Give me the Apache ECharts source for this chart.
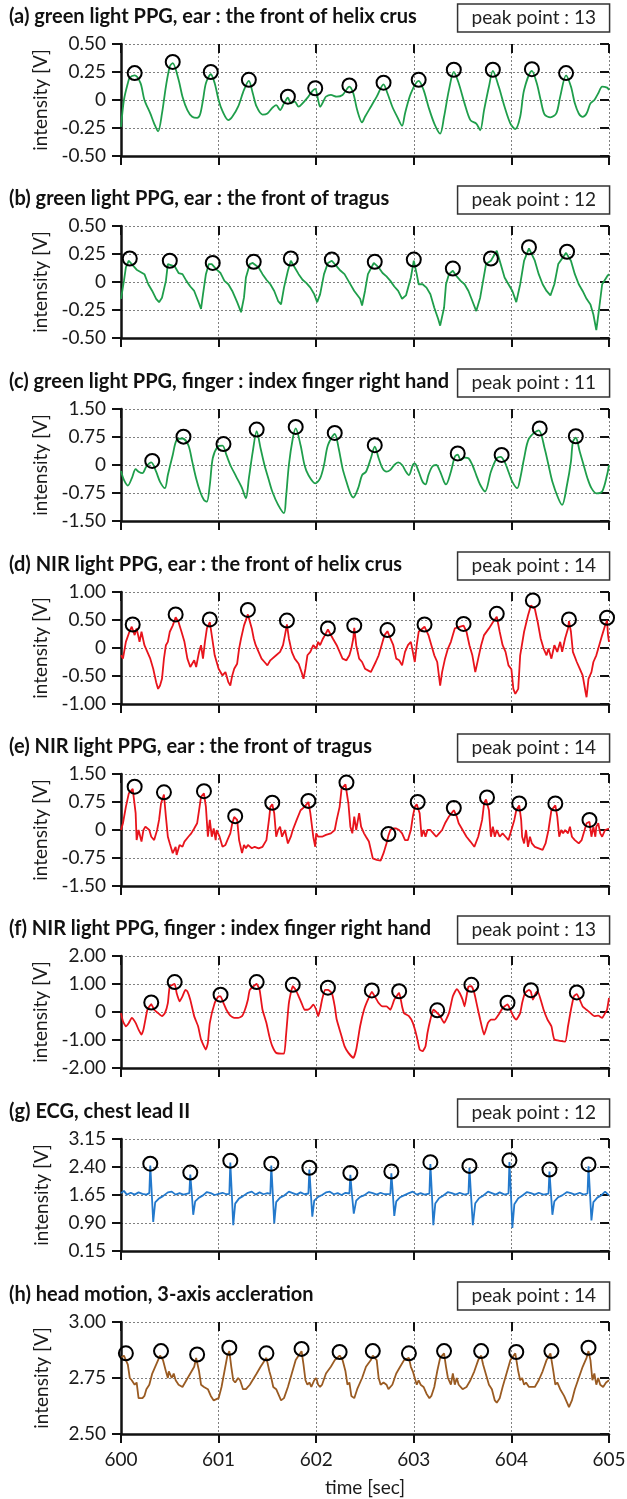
<!DOCTYPE html>
<html>
<head>
<meta charset="utf-8">
<script src="https://cdn.jsdelivr.net/npm/echarts@6/dist/echarts.min.js"></script>
<style>
  html, body { margin: 0; padding: 0; background: #fff; }
  #chart { width: 627px; height: 1499px; }
</style>
</head>
<body>
<div id="chart"></div>
<script>
// panel titles and peak counts
var titles = [
  "(a) green light PPG, ear : the front of helix crus",
  "(b) green light PPG, ear : the front of tragus",
  "(c) green light PPG, finger : index finger right hand",
  "(d) NIR light PPG, ear : the front of helix crus",
  "(e) NIR light PPG, ear : the front of tragus",
  "(f) NIR light PPG, finger : index finger right hand",
  "(g) ECG, chest lead II",
  "(h) head motion, 3-axis accleration"
];
var peakCounts = [13, 12, 11, 14, 14, 13, 12, 14];
var lineColors = ["#1f9e4b", "#1f9e4b", "#1f9e4b", "#e8141c", "#e8141c", "#e8141c", "#2379cc", "#9a5b22"];

// y axis ranges
var yMins = [-0.5, -0.5, -1.5, -1.0, -1.5, -2.0, 0.15, 2.5];
var yMaxs = [0.5, 0.5, 1.5, 1.0, 1.5, 2.0, 3.15, 3.0];
var ySteps = [0.25, 0.25, 0.75, 0.5, 0.75, 1.0, 0.75, 0.25];

// time axis
var timeMin = 600, timeMax = 605, timeStep = 1;

// traces: [time sec, intensity V]
var traceA = [[600.00,-0.24],[600.03,0.00],[600.07,0.15],[600.09,0.20],[600.14,0.22],[600.20,0.15],[600.24,0.00],[600.30,-0.12],[600.34,-0.21],[600.38,-0.28],[600.42,-0.12],[600.46,0.12],[600.50,0.30],[600.53,0.33],[600.59,0.18],[600.63,0.03],[600.68,-0.09],[600.73,-0.15],[600.78,-0.16],[600.81,-0.13],[600.84,0.00],[600.87,0.15],[600.92,0.23],[600.96,0.15],[601.00,0.00],[601.04,-0.10],[601.10,-0.18],[601.14,-0.15],[601.20,-0.06],[601.26,0.09],[601.31,0.17],[601.35,0.06],[601.39,-0.06],[601.45,-0.13],[601.50,-0.12],[601.55,-0.07],[601.59,-0.045],[601.63,-0.09],[601.67,-0.03],[601.71,0.02],[601.74,-0.03],[601.78,-0.015],[601.82,-0.06],[601.86,-0.03],[601.92,0.03],[601.96,0.08],[601.99,0.10],[602.02,0.00],[602.04,-0.06],[602.08,0.00],[602.10,0.03],[602.15,0.045],[602.21,0.03],[602.27,0.045],[602.34,0.12],[602.38,0.06],[602.42,-0.09],[602.47,-0.20],[602.50,-0.15],[602.56,-0.06],[602.62,0.03],[602.69,0.14],[602.73,0.06],[602.78,-0.06],[602.83,-0.15],[602.88,-0.23],[602.91,-0.12],[602.97,0.06],[603.05,0.17],[603.10,0.09],[603.15,-0.06],[603.21,-0.21],[603.27,-0.30],[603.31,-0.15],[603.36,0.09],[603.41,0.25],[603.46,0.15],[603.52,-0.03],[603.58,-0.18],[603.64,-0.21],[603.68,-0.27],[603.72,-0.09],[603.77,0.12],[603.81,0.26],[603.87,0.12],[603.93,-0.06],[603.99,-0.21],[604.04,-0.26],[604.09,-0.15],[604.13,0.09],[604.21,0.26],[604.26,0.15],[604.30,0.00],[604.34,-0.13],[604.40,-0.155],[604.46,-0.12],[604.50,0.03],[604.56,0.22],[604.61,0.12],[604.65,-0.03],[604.69,-0.12],[604.73,-0.15],[604.77,-0.12],[604.81,-0.03],[604.85,0.00],[604.89,0.06],[604.93,0.12],[604.98,0.11],[605.00,0.09]];
var peaksA = [[600.14,0.24],[600.53,0.34],[600.92,0.25],[601.31,0.18],[601.71,0.03],[601.99,0.105],[602.34,0.13],[602.69,0.155],[603.05,0.18],[603.41,0.27],[603.81,0.27],[604.21,0.275],[604.56,0.24]];

var traceB = [[600.00,-0.15],[600.03,0.01],[600.05,0.13],[600.08,0.19],[600.11,0.16],[600.16,0.11],[600.20,0.09],[600.24,0.07],[600.28,-0.02],[600.32,-0.08],[600.36,-0.15],[600.39,-0.18],[600.42,-0.14],[600.46,0.01],[600.48,0.16],[600.50,0.17],[600.55,0.14],[600.59,0.08],[600.63,0.07],[600.67,0.01],[600.71,-0.04],[600.75,-0.08],[600.79,-0.17],[600.82,-0.24],[600.84,-0.11],[600.87,0.07],[600.90,0.16],[600.93,0.16],[600.98,0.11],[601.02,0.08],[601.06,0.01],[601.10,-0.02],[601.14,-0.08],[601.19,-0.18],[601.23,-0.27],[601.26,-0.14],[601.28,0.04],[601.32,0.16],[601.35,0.17],[601.41,0.13],[601.45,0.07],[601.49,0.02],[601.53,-0.02],[601.57,-0.08],[601.61,-0.17],[601.64,-0.20],[601.67,-0.05],[601.71,0.10],[601.74,0.19],[601.78,0.13],[601.82,0.07],[601.86,0.02],[601.90,-0.01],[601.94,-0.05],[601.98,-0.11],[602.01,-0.18],[602.04,-0.11],[602.08,0.07],[602.12,0.17],[602.16,0.19],[602.21,0.14],[602.25,0.10],[602.29,0.07],[602.33,0.01],[602.39,-0.08],[602.45,-0.15],[602.47,-0.21],[602.50,-0.08],[602.53,0.07],[602.59,0.17],[602.64,0.13],[602.68,0.08],[602.72,0.05],[602.76,0.01],[602.80,-0.04],[602.84,-0.08],[602.88,-0.15],[602.92,-0.12],[602.97,0.04],[603.00,0.19],[603.03,0.07],[603.05,-0.02],[603.09,-0.02],[603.13,-0.05],[603.17,-0.11],[603.21,-0.23],[603.25,-0.33],[603.27,-0.39],[603.31,-0.23],[603.33,-0.02],[603.36,0.07],[603.40,0.10],[603.44,0.05],[603.48,0.01],[603.52,-0.02],[603.56,-0.08],[603.60,-0.17],[603.64,-0.26],[603.68,-0.14],[603.71,0.01],[603.74,0.16],[603.79,0.19],[603.85,0.28],[603.89,0.16],[603.93,0.04],[603.97,-0.02],[604.01,-0.08],[604.05,-0.18],[604.09,-0.02],[604.13,0.19],[604.18,0.30],[604.24,0.19],[604.28,0.07],[604.32,-0.02],[604.36,-0.08],[604.40,-0.12],[604.44,-0.02],[604.48,0.16],[604.56,0.26],[604.61,0.19],[604.65,0.07],[604.69,-0.02],[604.73,-0.08],[604.77,-0.15],[604.81,-0.20],[604.84,-0.29],[604.87,-0.43],[604.90,-0.23],[604.93,-0.02],[604.98,0.05],[605.00,0.07]];
var peaksB = [[600.09,0.21],[600.50,0.19],[600.94,0.17],[601.36,0.18],[601.74,0.21],[602.16,0.20],[602.60,0.18],[603.00,0.20],[603.40,0.12],[603.79,0.21],[604.18,0.31],[604.57,0.27]];

var traceC = [[600.00,-0.16],[600.03,-0.40],[600.07,-0.55],[600.11,-0.36],[600.15,-0.11],[600.18,-0.18],[600.22,-0.22],[600.26,-0.04],[600.31,0.07],[600.36,-0.18],[600.40,-0.45],[600.45,-0.62],[600.48,-0.27],[600.53,0.27],[600.57,0.67],[600.63,0.71],[600.69,0.53],[600.73,0.09],[600.77,-0.36],[600.81,-0.71],[600.85,-0.94],[600.88,-0.98],[600.91,-0.53],[600.94,0.18],[600.99,0.49],[601.04,0.52],[601.08,0.27],[601.12,0.00],[601.18,-0.31],[601.24,-0.62],[601.28,-0.89],[601.31,-0.36],[601.35,0.36],[601.39,0.91],[601.43,0.45],[601.47,0.00],[601.51,-0.36],[601.55,-0.71],[601.61,-1.07],[601.67,-1.29],[601.69,-0.89],[601.72,0.00],[601.76,0.71],[601.79,0.98],[601.84,0.53],[601.88,0.00],[601.92,-0.27],[601.99,-0.49],[602.04,-0.36],[602.08,0.00],[602.12,0.53],[602.19,0.83],[602.23,0.45],[602.27,-0.09],[602.31,-0.45],[602.35,-0.76],[602.38,-0.87],[602.43,-0.62],[602.47,-0.27],[602.51,-0.18],[602.56,0.18],[602.60,0.49],[602.64,0.18],[602.68,-0.09],[602.72,-0.18],[602.76,-0.13],[602.80,0.00],[602.84,0.07],[602.88,0.00],[602.92,-0.18],[602.95,-0.27],[602.99,0.00],[603.01,0.04],[603.05,-0.18],[603.09,-0.45],[603.12,-0.52],[603.15,-0.27],[603.19,-0.04],[603.23,0.00],[603.27,-0.18],[603.31,-0.45],[603.33,-0.52],[603.38,-0.18],[603.42,0.22],[603.45,0.28],[603.48,0.13],[603.52,0.20],[603.56,0.18],[603.60,0.00],[603.64,-0.27],[603.68,-0.53],[603.73,-0.71],[603.79,-0.18],[603.85,0.18],[603.89,0.22],[603.93,0.09],[603.97,-0.18],[604.01,-0.45],[604.06,-0.62],[604.09,-0.36],[604.13,0.18],[604.18,0.71],[604.28,0.93],[604.34,0.45],[604.38,0.00],[604.42,-0.45],[604.48,-0.89],[604.52,-1.07],[604.57,-0.53],[604.61,0.09],[604.63,0.62],[604.66,0.73],[604.70,0.36],[604.74,0.00],[604.78,-0.36],[604.82,-0.62],[604.87,-0.76],[604.93,-0.71],[604.98,-0.27],[605.00,0.00]];
var peaksC = [[600.32,0.11],[600.64,0.76],[601.05,0.56],[601.39,0.95],[601.79,1.02],[602.19,0.86],[602.60,0.53],[603.45,0.31],[603.90,0.27],[604.29,0.98],[604.66,0.77]];

var traceD = [[600.00,-0.13],[600.02,-0.19],[600.05,0.11],[600.08,0.26],[600.11,0.38],[600.14,0.23],[600.16,0.35],[600.19,0.11],[600.21,0.29],[600.24,0.05],[600.27,-0.07],[600.30,-0.19],[600.33,-0.37],[600.36,-0.61],[600.38,-0.73],[600.40,-0.67],[600.42,-0.55],[600.44,-0.19],[600.46,0.05],[600.48,0.11],[600.50,0.29],[600.53,0.40],[600.56,0.55],[600.59,0.46],[600.62,0.29],[600.65,0.11],[600.68,-0.19],[600.71,-0.34],[600.75,-0.22],[600.77,-0.34],[600.80,-0.07],[600.82,0.05],[600.84,-0.19],[600.86,0.11],[600.88,0.35],[600.91,0.46],[600.94,0.11],[600.96,-0.13],[600.98,-0.25],[601.00,-0.37],[601.04,-0.49],[601.07,-0.43],[601.10,-0.61],[601.12,-0.67],[601.14,-0.49],[601.16,-0.37],[601.19,-0.28],[601.21,-0.01],[601.23,0.17],[601.26,0.40],[601.30,0.60],[601.34,0.35],[601.36,0.17],[601.38,0.05],[601.41,-0.07],[601.44,-0.19],[601.47,-0.25],[601.50,-0.31],[601.53,-0.22],[601.55,-0.19],[601.59,-0.13],[601.63,-0.07],[601.66,0.05],[601.68,0.23],[601.70,0.42],[601.72,0.17],[601.75,-0.07],[601.78,-0.19],[601.82,-0.28],[601.85,-0.43],[601.87,-0.55],[601.89,-0.37],[601.91,-0.13],[601.94,-0.07],[601.97,0.05],[602.00,-0.01],[602.02,0.11],[602.04,0.05],[602.07,0.17],[602.09,0.23],[602.12,0.33],[602.17,0.17],[602.21,0.05],[602.24,-0.07],[602.27,-0.19],[602.31,-0.22],[602.34,-0.13],[602.36,-0.01],[602.38,0.17],[602.39,0.36],[602.41,0.05],[602.44,-0.19],[602.47,-0.25],[602.50,-0.37],[602.53,-0.40],[602.56,-0.43],[602.58,-0.46],[602.61,-0.25],[602.64,-0.13],[602.67,0.05],[602.70,0.23],[602.73,0.30],[602.76,0.17],[602.79,0.05],[602.82,-0.19],[602.85,-0.22],[602.88,-0.31],[602.91,-0.07],[602.94,0.05],[602.97,0.11],[602.99,-0.07],[603.01,-0.25],[603.03,0.05],[603.05,0.29],[603.11,0.38],[603.15,0.23],[603.18,0.05],[603.21,-0.13],[603.24,-0.25],[603.27,-0.67],[603.29,-0.43],[603.32,-0.19],[603.35,-0.01],[603.38,0.11],[603.40,0.23],[603.42,0.35],[603.51,0.40],[603.54,0.29],[603.57,0.05],[603.60,-0.13],[603.63,-0.43],[603.66,-0.19],[603.69,0.05],[603.72,0.23],[603.77,0.35],[603.81,0.46],[603.85,0.56],[603.88,0.29],[603.91,0.05],[603.94,-0.07],[603.97,-0.31],[604.00,-0.38],[604.02,-0.73],[604.04,-0.82],[604.07,-0.73],[604.09,-0.13],[604.13,0.29],[604.17,0.58],[604.20,0.76],[604.22,0.79],[604.24,0.70],[604.27,0.46],[604.30,0.17],[604.33,-0.01],[604.36,-0.13],[604.38,-0.01],[604.41,-0.19],[604.44,0.05],[604.47,-0.07],[604.50,0.11],[604.52,-0.07],[604.55,0.17],[604.58,0.35],[604.59,0.48],[604.61,0.29],[604.63,-0.07],[604.67,-0.25],[604.70,-0.37],[604.73,-0.49],[604.76,-0.79],[604.77,-0.88],[604.79,-0.55],[604.82,-0.43],[604.84,-0.25],[604.87,-0.13],[604.90,0.05],[604.93,0.23],[604.96,0.40],[604.98,0.49],[604.99,0.23],[605.00,0.11]];
var peaksD = [[600.12,0.42],[600.56,0.60],[600.91,0.51],[601.30,0.68],[601.70,0.49],[602.12,0.35],[602.39,0.40],[602.73,0.32],[603.11,0.42],[603.51,0.43],[603.85,0.61],[604.22,0.85],[604.59,0.51],[604.98,0.54]];

var traceE = [[600.00,0.00],[600.02,0.18],[600.05,0.62],[600.08,0.98],[600.12,1.10],[600.15,0.45],[600.16,-0.27],[600.18,0.00],[600.21,-0.31],[600.23,0.00],[600.25,0.09],[600.27,0.13],[600.29,0.00],[600.31,-0.18],[600.34,-0.27],[600.37,0.00],[600.39,0.27],[600.41,0.71],[600.44,0.95],[600.46,0.36],[600.48,-0.18],[600.50,-0.36],[600.53,-0.62],[600.56,-0.45],[600.57,-0.67],[600.60,-0.40],[600.63,-0.45],[600.65,-0.31],[600.67,-0.27],[600.69,-0.18],[600.72,-0.09],[600.75,0.04],[600.78,0.18],[600.80,0.53],[600.82,0.89],[600.85,0.98],[600.87,0.62],[600.89,-0.18],[600.91,0.27],[600.93,-0.18],[600.95,0.04],[600.97,-0.27],[600.98,0.00],[601.01,-0.18],[601.04,-0.45],[601.07,-0.40],[601.09,-0.27],[601.12,-0.09],[601.14,0.18],[601.16,0.35],[601.19,0.27],[601.21,-0.27],[601.24,-0.62],[601.26,-0.40],[601.28,-0.49],[601.30,-0.40],[601.34,-0.49],[601.37,-0.45],[601.41,-0.49],[601.45,-0.45],[601.49,-0.27],[601.52,0.36],[601.53,0.62],[601.55,0.69],[601.57,0.45],[601.59,-0.18],[601.61,0.00],[601.63,0.09],[601.65,-0.18],[601.68,0.00],[601.71,-0.36],[601.74,-0.18],[601.76,0.00],[601.80,0.27],[601.84,0.53],[601.88,0.62],[601.92,0.75],[601.94,0.45],[601.97,-0.18],[601.99,-0.45],[602.00,-0.09],[602.02,-0.18],[602.06,-0.18],[602.10,-0.13],[602.15,-0.09],[602.19,0.00],[602.21,0.27],[602.24,0.62],[602.26,1.11],[602.30,1.22],[602.33,0.71],[602.35,0.09],[602.37,-0.09],[602.39,0.36],[602.41,0.00],[602.44,0.45],[602.46,0.09],[602.49,-0.09],[602.51,-0.18],[602.54,-0.31],[602.58,-0.76],[602.62,-0.80],[602.66,-0.82],[602.69,-0.62],[602.72,-0.36],[602.74,-0.15],[602.76,0.00],[602.79,0.04],[602.82,0.04],[602.85,0.00],[602.88,-0.09],[602.91,-0.27],[602.94,-0.27],[602.97,0.00],[602.99,0.36],[603.01,0.62],[603.03,0.69],[603.06,0.45],[603.08,-0.18],[603.10,0.00],[603.12,-0.18],[603.14,0.00],[603.17,0.00],[603.20,-0.09],[603.23,-0.18],[603.26,-0.09],[603.29,0.00],[603.32,0.18],[603.36,0.36],[603.41,0.53],[603.44,0.36],[603.46,0.18],[603.50,0.00],[603.54,-0.18],[603.58,-0.31],[603.62,-0.45],[603.66,-0.18],[603.70,0.27],[603.72,0.71],[603.74,0.82],[603.77,0.53],[603.79,-0.18],[603.81,0.09],[603.83,-0.18],[603.85,0.00],[603.88,-0.18],[603.91,-0.09],[603.94,-0.18],[603.97,-0.27],[604.00,0.00],[604.03,0.27],[604.05,0.53],[604.08,0.66],[604.10,0.27],[604.11,-0.18],[604.13,-0.36],[604.15,0.00],[604.17,-0.45],[604.19,-0.18],[604.21,-0.36],[604.24,-0.45],[604.28,-0.49],[604.32,-0.53],[604.35,-0.36],[604.38,0.00],[604.41,0.53],[604.45,0.66],[604.47,0.36],[604.49,-0.18],[604.51,0.00],[604.53,-0.09],[604.55,0.00],[604.58,-0.09],[604.60,0.09],[604.62,-0.18],[604.65,-0.27],[604.69,-0.36],[604.72,-0.27],[604.75,0.00],[604.77,0.18],[604.80,0.22],[604.82,-0.18],[604.84,0.09],[604.86,-0.18],[604.87,0.09],[604.89,0.18],[604.91,-0.09],[604.93,-0.18],[604.96,0.00],[605.00,0.04]];
var peaksE = [[600.14,1.16],[600.44,1.01],[600.85,1.04],[601.17,0.37],[601.55,0.73],[601.92,0.78],[602.31,1.27],[602.74,-0.11],[603.04,0.75],[603.41,0.59],[603.75,0.87],[604.08,0.71],[604.45,0.71],[604.80,0.27]];

var traceF = [[600.00,-0.04],[600.02,-0.33],[600.05,-0.51],[600.08,-0.39],[600.11,-0.21],[600.15,-0.39],[600.18,-0.63],[600.21,-0.81],[600.23,-0.63],[600.25,-0.27],[600.27,0.08],[600.29,0.20],[600.31,0.28],[600.34,0.08],[600.38,-0.04],[600.42,-0.15],[600.45,-0.04],[600.48,0.32],[600.50,0.91],[600.55,1.00],[600.57,0.68],[600.60,0.38],[600.63,0.56],[600.66,0.79],[600.68,0.74],[600.71,0.44],[600.75,-0.15],[600.79,-0.51],[600.82,-0.98],[600.87,-1.34],[600.89,-1.10],[600.91,-0.39],[600.96,0.32],[601.00,0.56],[601.02,0.56],[601.05,0.32],[601.08,0.08],[601.12,-0.13],[601.16,-0.21],[601.20,-0.21],[601.24,-0.15],[601.27,0.08],[601.30,0.44],[601.32,0.79],[601.39,1.00],[601.42,0.79],[601.45,0.08],[601.49,-0.39],[601.52,-0.87],[601.55,-1.22],[601.59,-1.46],[601.67,-1.49],[601.69,-0.87],[601.72,0.32],[601.76,0.92],[601.79,0.79],[601.82,0.56],[601.85,0.32],[601.88,0.08],[601.91,0.08],[601.94,0.14],[601.97,0.26],[602.00,0.08],[602.02,-0.15],[602.04,0.08],[602.06,0.44],[602.09,0.79],[602.12,0.79],[602.16,0.68],[602.19,0.20],[602.21,-0.27],[602.25,-0.75],[602.29,-1.22],[602.33,-1.46],[602.38,-1.64],[602.41,-1.34],[602.45,-0.51],[602.49,0.08],[602.53,0.44],[602.57,0.72],[602.60,0.56],[602.64,0.32],[602.68,0.20],[602.72,0.20],[602.76,0.08],[602.80,0.44],[602.85,0.68],[602.88,0.20],[602.90,-0.04],[602.95,-0.15],[602.99,-0.39],[603.03,-0.87],[603.06,-1.34],[603.09,-1.40],[603.12,-1.22],[603.14,-0.75],[603.17,-0.27],[603.20,0.08],[603.23,0.00],[603.27,-0.15],[603.31,-0.39],[603.36,-0.04],[603.40,0.56],[603.44,0.82],[603.47,0.68],[603.50,0.44],[603.52,0.20],[603.54,0.56],[603.56,0.91],[603.59,0.92],[603.62,0.68],[603.65,0.20],[603.68,-0.27],[603.72,-0.81],[603.76,-0.39],[603.79,-0.27],[603.83,-0.27],[603.87,-0.09],[603.91,0.14],[603.96,0.27],[603.99,0.08],[604.02,-0.15],[604.05,-0.27],[604.09,-0.04],[604.11,0.32],[604.14,0.68],[604.18,0.79],[604.20,0.72],[604.22,0.44],[604.25,0.68],[604.27,0.74],[604.30,0.44],[604.33,0.08],[604.37,-0.27],[604.41,-0.51],[604.44,-0.98],[604.55,-1.06],[604.58,-0.51],[604.61,0.08],[604.64,0.56],[604.67,0.64],[604.70,0.44],[604.73,0.20],[604.77,0.08],[604.81,-0.04],[604.85,-0.15],[604.89,-0.13],[604.93,-0.21],[604.96,-0.04],[604.98,0.08],[605.00,0.50]];
var peaksF = [[600.31,0.34],[600.55,1.07],[601.02,0.62],[601.39,1.07],[601.76,0.97],[602.12,0.87],[602.57,0.77],[602.85,0.74],[603.24,0.06],[603.59,0.97],[603.96,0.33],[604.20,0.78],[604.67,0.70]];

var traceG = [[600.00,1.70],[600.03,1.76],[600.06,1.66],[600.10,1.71],[600.14,1.66],[600.18,1.72],[600.22,1.68],[600.26,1.66],[600.29,1.70],[600.30,2.44],[600.315,1.70],[600.33,0.93],[600.35,1.45],[600.39,1.56],[600.43,1.62],[600.48,1.72],[600.52,1.74],[600.56,1.66],[600.60,1.70],[600.64,1.66],[600.70,1.70],[600.71,2.20],[600.725,1.70],[600.74,1.12],[600.76,1.48],[600.80,1.58],[600.84,1.64],[600.88,1.73],[600.92,1.70],[600.96,1.65],[601.00,1.68],[601.04,1.71],[601.08,1.67],[601.11,1.68],[601.12,2.52],[601.135,1.70],[601.15,0.84],[601.17,1.42],[601.21,1.56],[601.25,1.62],[601.30,1.71],[601.34,1.74],[601.38,1.66],[601.42,1.72],[601.46,1.67],[601.50,1.70],[601.53,1.68],[601.54,2.44],[601.555,1.70],[601.57,0.89],[601.59,1.46],[601.63,1.58],[601.67,1.63],[601.72,1.74],[601.76,1.70],[601.80,1.66],[601.84,1.72],[601.88,1.67],[601.92,1.69],[601.93,2.33],[601.945,1.70],[601.96,1.07],[601.98,1.50],[602.02,1.60],[602.06,1.65],[602.10,1.72],[602.14,1.74],[602.18,1.67],[602.22,1.70],[602.26,1.65],[602.30,1.71],[602.34,1.69],[602.35,2.19],[602.365,1.70],[602.385,1.15],[602.41,1.50],[602.45,1.60],[602.49,1.64],[602.54,1.73],[602.58,1.70],[602.62,1.66],[602.66,1.71],[602.70,1.67],[602.76,1.68],[602.77,2.23],[602.785,1.70],[602.80,1.09],[602.82,1.48],[602.86,1.59],[602.90,1.64],[602.95,1.70],[602.99,1.74],[603.03,1.66],[603.07,1.70],[603.11,1.66],[603.16,1.69],[603.17,2.48],[603.185,1.70],[603.20,0.84],[603.22,1.42],[603.26,1.57],[603.30,1.63],[603.35,1.73],[603.39,1.70],[603.43,1.66],[603.47,1.71],[603.52,1.66],[603.56,1.69],[603.57,2.38],[603.585,1.70],[603.605,0.84],[603.63,1.43],[603.67,1.57],[603.71,1.63],[603.76,1.74],[603.80,1.70],[603.84,1.66],[603.88,1.72],[603.93,1.66],[603.97,1.69],[603.98,2.53],[603.995,1.70],[604.01,0.77],[604.03,1.40],[604.07,1.56],[604.11,1.63],[604.16,1.73],[604.20,1.70],[604.24,1.66],[604.28,1.71],[604.33,1.66],[604.38,1.69],[604.39,2.28],[604.405,1.70],[604.42,1.12],[604.44,1.48],[604.48,1.59],[604.52,1.64],[604.57,1.73],[604.61,1.70],[604.65,1.66],[604.70,1.71],[604.74,1.66],[604.78,1.69],[604.79,2.42],[604.805,1.70],[604.82,0.97],[604.84,1.46],[604.88,1.58],[604.92,1.64],[604.96,1.74],[605.00,1.64]];
var peaksG = [[600.30,2.49],[600.71,2.25],[601.12,2.57],[601.54,2.49],[601.93,2.38],[602.35,2.24],[602.77,2.28],[603.17,2.53],[603.57,2.43],[603.98,2.58],[604.39,2.33],[604.79,2.47]];

var traceH = [[600.00,2.84],[600.03,2.85],[600.07,2.81],[600.09,2.75],[600.11,2.74],[600.14,2.72],[600.16,2.73],[600.18,2.66],[600.22,2.66],[600.24,2.67],[600.26,2.70],[600.29,2.72],[600.32,2.77],[600.36,2.81],[600.40,2.85],[600.43,2.83],[600.46,2.78],[600.48,2.75],[600.49,2.78],[600.52,2.75],[600.54,2.77],[600.56,2.74],[600.59,2.72],[600.63,2.71],[600.67,2.74],[600.71,2.77],[600.75,2.80],[600.77,2.84],[600.80,2.78],[600.82,2.72],[600.85,2.71],[600.89,2.70],[600.92,2.67],[600.95,2.65],[601.00,2.66],[601.03,2.71],[601.06,2.78],[601.09,2.85],[601.11,2.87],[601.13,2.80],[601.15,2.74],[601.17,2.73],[601.20,2.75],[601.22,2.74],[601.25,2.70],[601.28,2.70],[601.32,2.72],[601.39,2.77],[601.43,2.80],[601.49,2.84],[601.52,2.78],[601.54,2.75],[601.56,2.71],[601.59,2.70],[601.62,2.67],[601.64,2.65],[601.67,2.66],[601.71,2.71],[601.75,2.77],[601.79,2.83],[601.85,2.87],[601.87,2.81],[601.89,2.74],[601.91,2.72],[601.93,2.73],[601.95,2.71],[601.98,2.74],[602.00,2.75],[602.02,2.72],[602.04,2.71],[602.06,2.72],[602.10,2.77],[602.15,2.80],[602.19,2.83],[602.24,2.85],[602.27,2.83],[602.30,2.78],[602.32,2.72],[602.34,2.73],[602.36,2.67],[602.39,2.66],[602.42,2.70],[602.47,2.75],[602.51,2.80],[602.56,2.83],[602.58,2.85],[602.62,2.83],[602.64,2.75],[602.66,2.72],[602.69,2.73],[602.72,2.72],[602.74,2.70],[602.78,2.72],[602.82,2.77],[602.86,2.80],[602.90,2.83],[602.95,2.84],[602.97,2.80],[602.99,2.78],[603.01,2.75],[603.03,2.72],[603.05,2.74],[603.07,2.72],[603.10,2.71],[603.13,2.68],[603.16,2.66],[603.18,2.67],[603.21,2.71],[603.24,2.78],[603.27,2.84],[603.31,2.86],[603.33,2.80],[603.35,2.75],[603.38,2.72],[603.40,2.77],[603.42,2.72],[603.44,2.75],[603.46,2.72],[603.50,2.70],[603.54,2.71],[603.58,2.74],[603.62,2.78],[603.66,2.83],[603.69,2.85],[603.71,2.81],[603.73,2.78],[603.77,2.72],[603.80,2.70],[603.83,2.65],[603.85,2.64],[603.88,2.66],[603.91,2.71],[603.95,2.77],[603.99,2.83],[604.04,2.86],[604.07,2.78],[604.09,2.74],[604.11,2.75],[604.13,2.72],[604.15,2.73],[604.18,2.71],[604.24,2.71],[604.28,2.74],[604.32,2.78],[604.36,2.83],[604.40,2.86],[604.43,2.78],[604.45,2.72],[604.47,2.73],[604.50,2.70],[604.54,2.67],[604.57,2.64],[604.59,2.62],[604.62,2.65],[604.65,2.70],[604.69,2.75],[604.73,2.80],[604.77,2.84],[604.79,2.87],[604.81,2.83],[604.83,2.74],[604.85,2.77],[604.87,2.72],[604.89,2.75],[604.91,2.72],[604.94,2.71],[604.97,2.73],[605.00,2.74]];
var peaksH = [[600.05,2.86],[600.41,2.87],[600.78,2.855],[601.11,2.885],[601.49,2.86],[601.85,2.88],[602.24,2.866],[602.58,2.87],[602.95,2.86],[603.31,2.87],[603.69,2.87],[604.05,2.866],[604.41,2.87],[604.79,2.885]];

var traces = [traceA, traceB, traceC, traceD, traceE, traceF, traceG, traceH];
var peaks = [peaksA, peaksB, peaksC, peaksD, peaksE, peaksF, peaksG, peaksH];
var smoothing = [0.3, 0, 0.3, 0, 0, 0.15, 0, 0];

var gridTops = [44, 226, 409, 592, 774, 956, 1139, 1322];
var FONT = "Lato";

var chart = echarts.init(document.getElementById("chart"), null, { renderer: "canvas" });

var grids = [], xAxes = [], yAxes = [], series = [], titleList = [];
function fmtY(v) {
  if (Math.abs(v) < 1e-9) return "0";
  return v.toFixed(2);
}

for (var i = 0; i < 8; i++) {
  grids.push({ left: 121, top: gridTops[i], width: 488, height: 112, outerBoundsMode: "none", containLabel: false });

  var last = i === 7;
  // outer x axis: ticks below, grid lines, labels only on last panel
  xAxes.push({
    type: "value", gridIndex: i, min: timeMin, max: timeMax, interval: timeStep,
    axisLine: { show: true, onZero: false, lineStyle: { color: "#111", width: 2.5 } },
    axisTick: { show: true, inside: false, length: 9, lineStyle: { color: "#111", width: 2 } },
    axisLabel: { show: last, margin: 16, fontFamily: FONT, fontSize: 19, color: "#1a1a1a" },
    splitLine: { show: true, lineStyle: { color: "#808080", width: 1, type: [2, 2] } },
    name: last ? "time [sec]" : "", nameLocation: "middle", nameGap: 44,
    nameTextStyle: { fontFamily: FONT, fontSize: 19, color: "#1a1a1a" }
  });
  // inner x axis: ticks above only
  xAxes.push({
    type: "value", gridIndex: i, min: timeMin, max: timeMax, interval: timeStep,
    axisLine: { show: false, onZero: false },
    axisTick: { show: true, inside: true, length: 9, lineStyle: { color: "#111", width: 2 } },
    axisLabel: { show: false }, splitLine: { show: false }
  });

  yAxes.push({
    type: "value", gridIndex: i, min: yMins[i], max: yMaxs[i], interval: ySteps[i],
    axisLine: { show: true, onZero: false, lineStyle: { color: "#111", width: 2.5 } },
    axisTick: { show: true, inside: false, length: 9, lineStyle: { color: "#111", width: 2 } },
    axisLabel: { margin: 15, fontFamily: FONT, fontSize: 19, color: "#1a1a1a", formatter: fmtY },
    splitLine: { show: true, lineStyle: { color: "#808080", width: 1, type: [2, 2] } },
    name: "intensity [V]", nameLocation: "middle", nameGap: 70, nameRotate: 90,
    nameTextStyle: { fontFamily: FONT, fontSize: 19, color: "#1a1a1a" }
  });
  yAxes.push({
    type: "value", gridIndex: i, min: yMins[i], max: yMaxs[i], interval: ySteps[i],
    axisLine: { show: false, onZero: false },
    axisTick: { show: true, inside: true, length: 9, lineStyle: { color: "#111", width: 2 } },
    axisLabel: { show: false }, splitLine: { show: false }
  });

  series.push({
    type: "line", xAxisIndex: 2 * i, yAxisIndex: 2 * i, data: traces[i],
    showSymbol: false, smooth: smoothing[i], z: 3,
    lineStyle: { color: lineColors[i], width: 1.8 }
  });
  series.push({
    type: "scatter", xAxisIndex: 2 * i, yAxisIndex: 2 * i, data: peaks[i],
    symbol: "circle", symbolSize: 14, z: 4,
    itemStyle: { color: "rgba(0,0,0,0)", borderColor: "#000", borderWidth: 2, opacity: 1 }
  });

  titleList.push({
    text: titles[i], left: 9, top: gridTops[i] - 37, padding: 0,
    textStyle: { fontFamily: FONT, fontSize: 20, fontWeight: "bold", color: "#111" }
  });
  titleList.push({
    text: "peak point : " + peakCounts[i], right: 17, top: gridTops[i] - 40,
    padding: [3, 14, 3, 14], borderColor: "#333", borderWidth: 1.5, backgroundColor: "#fff",
    textStyle: { fontFamily: FONT, fontSize: 19, fontWeight: "normal", color: "#222", lineHeight: 22 }
  });
}

chart.setOption({
  animation: false,
  backgroundColor: "#fff",
  title: titleList,
  grid: grids,
  xAxis: xAxes,
  yAxis: yAxes,
  series: series
});
</script>
</body>
</html>
